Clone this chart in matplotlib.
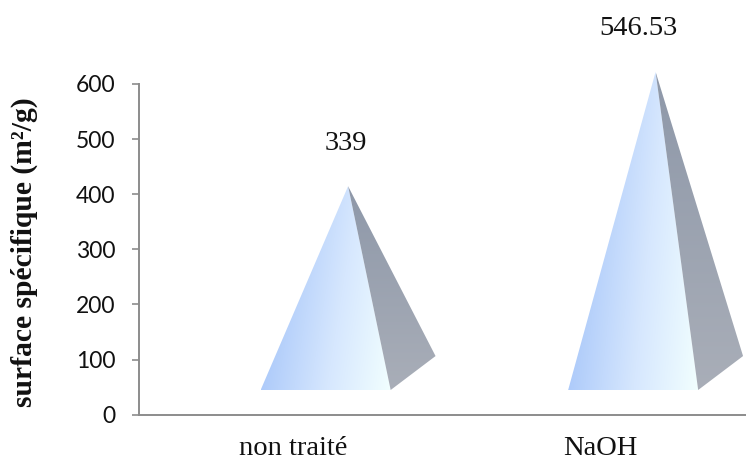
import numpy as np
import matplotlib
matplotlib.use("Agg")
import matplotlib.pyplot as plt
from matplotlib.colors import LinearSegmentedColormap
from matplotlib.patches import Polygon

categories = ["non traité", "NaOH"]
values = [339, 546.53]
value_labels = ["339", "546.53"]
y_ticks = [0, 100, 200, 300, 400, 500, 600]

W, H = 746, 461
x0, x1 = 139, 754
y0, y600 = 414.7, 84.0
positions = [0.5, 1.5]

fig = plt.figure(figsize=(W / 100, H / 100), dpi=100)
ax = fig.add_axes([x0 / W, 1 - y0 / H, (x1 - x0) / W, (y0 - y600) / H])

# pyramid shape, x in category units and y in axis units
half_w = 0.2114
depth_x = 0.146
shift = 0.107
front_y = 44.8
back_y = 106.4
mid_y = (front_y + back_y) / 2

face_cmap = LinearSegmentedColormap.from_list("face", ["#aecbfa", "#d6e7fe", "#f2ffff"])
side_cmap = LinearSegmentedColormap.from_list("side", ["#8e98a9", "#a9aeb8"])

label_dx = [-0.008, -0.056]

for i, val in enumerate(values):
    left = positions[i] + shift - half_w
    right = positions[i] + shift + half_w
    back = right + depth_x
    apex_x = (left + back) / 2
    apex_y = mid_y + val

    # front face, lighter to the right and a little bluer near the tip
    u, v = np.meshgrid(np.linspace(0, 1, 200), np.linspace(0, 1, 300))
    grad = np.clip(u - 0.25 * v, 0, 1)
    im = ax.imshow(grad, cmap=face_cmap, vmin=0, vmax=1, origin="lower",
                   extent=[left, right, front_y, apex_y], aspect="auto", zorder=2)
    front = Polygon([(left, front_y), (right, front_y), (apex_x, apex_y)],
                    closed=True, fc="none", ec="none", transform=ax.transData)
    ax.add_patch(front)
    # the tip of the tall pyramid goes above the 600 tick
    im.set_clip_box(fig.bbox)
    im.set_clip_path(front)

    # side face, darker toward the tip
    grad2 = np.linspace(0, 1, 256).reshape(-1, 1)
    im2 = ax.imshow(grad2, cmap=side_cmap, origin="upper",
                    extent=[apex_x, back, front_y, apex_y], aspect="auto", zorder=2)
    side = Polygon([(right, front_y), (back, back_y), (apex_x, apex_y)],
                   closed=True, fc="none", ec="none", transform=ax.transData)
    ax.add_patch(side)
    im2.set_clip_box(fig.bbox)
    im2.set_clip_path(side)

    ax.text(apex_x + label_dx[i], apex_y + 78, value_labels[i], ha="center", va="center",
            family="Liberation Serif", fontsize=20.5, color="#111111", clip_on=False)

ax.set_xlim(0, 2)
ax.set_ylim(0, 600)

for s in ["top", "right"]:
    ax.spines[s].set_visible(False)
for s in ["left", "bottom"]:
    ax.spines[s].set_color("#8c8c8c")
    ax.spines[s].set_linewidth(1.4)

ax.set_yticks(y_ticks)
ax.tick_params(axis="y", length=5, width=1.2, color="#8c8c8c", pad=12)
for lab in ax.get_yticklabels():
    lab.set_family("Lato")
    lab.set_fontsize(16.5)
    lab.set_color("#111111")

ax.set_xticks(positions)
ax.set_xticklabels(categories, family="Liberation Serif", fontsize=20.5, color="#111111")
ax.tick_params(axis="x", length=0, pad=15)

ax.set_ylabel("surface spécifique (m²/g)", family="Liberation Serif", fontsize=21.3,
              fontweight="bold", color="#111111")
ax.yaxis.set_label_coords(-0.164, 0.492)

fig.savefig("out.png", dpi=100)
